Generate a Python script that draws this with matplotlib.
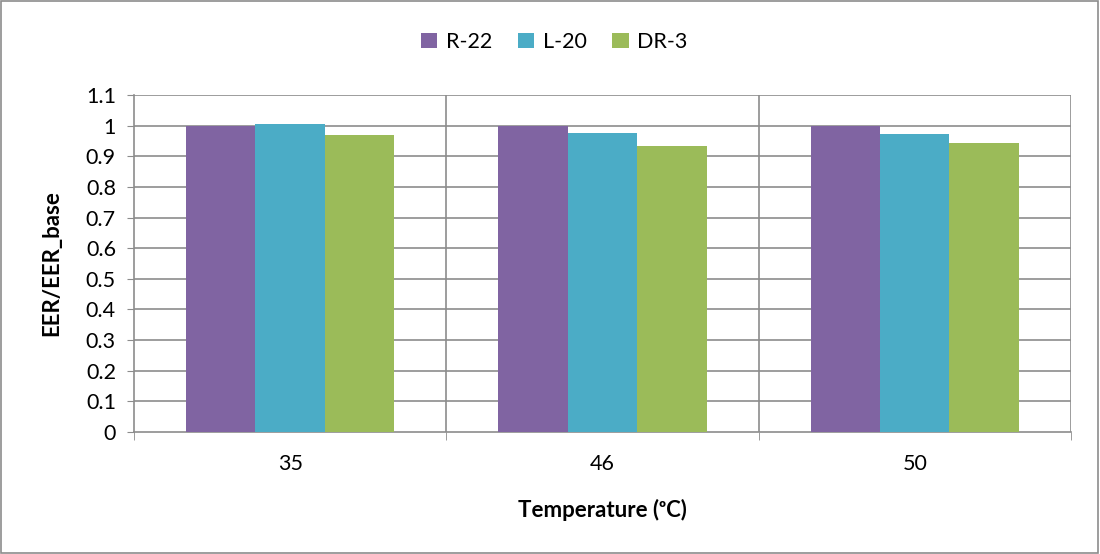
import matplotlib
matplotlib.use("Agg")
import matplotlib.pyplot as plt
from matplotlib.patches import Rectangle
import numpy as np

categories = ["35", "46", "50"]
series_names = ["R-22", "L-20", "DR-3"]
r22 = [1.0, 1.0, 1.0]
l20 = [1.006, 0.975, 0.973]
dr3 = [0.968, 0.933, 0.942]
colors = ["#8064A2", "#4BACC6", "#9BBB59"]

plt.rcParams['font.family'] = ['Lato', 'DejaVu Sans']
fs = 15.5

fig = plt.figure(figsize=(11, 5.54), dpi=100)
ax = fig.add_axes([0.1218, 0.2202, 0.8518, 0.6083])

x = np.arange(len(categories))
w = 1 / 4.5
data = [r22, l20, dr3]
for i, (vals, name, c) in enumerate(zip(data, series_names, colors)):
    ax.bar(x + (i - 1) * w, vals, width=w, color=c, label=name, zorder=3)

ax.set_xlim(-0.5, len(categories) - 0.5)
ax.set_ylim(0, 1.1)
yt = np.round(np.arange(0, 1.11, 0.1), 1)
ax.set_yticks(yt)
ax.set_yticklabels(["0", "0.1", "0.2", "0.3", "0.4", "0.5", "0.6", "0.7", "0.8", "0.9", "1", "1.1"])
ax.set_xticks(x)
ax.set_xticklabels(categories)
ax.set_xticks(np.arange(-0.5, len(categories)), minor=True)

gc = "#8c8c8c"
for yv in yt[1:]:
    ax.axhline(yv, color=gc, lw=1.2, zorder=1)
for xv in np.arange(0.5, len(categories)):
    ax.axvline(xv, color=gc, lw=1.2, zorder=1)

for s in ["top", "right"]:
    ax.spines[s].set_visible(False)
for s in ["left", "bottom"]:
    ax.spines[s].set_color(gc)
    ax.spines[s].set_linewidth(1.2)

ax.tick_params(axis='y', direction='out', length=5, color=gc, labelsize=fs, pad=8)
ax.tick_params(axis='x', which='major', length=0, labelsize=fs, pad=16)
ax.tick_params(axis='x', which='minor', direction='out', length=6, color=gc)

ax.set_ylabel("EER/EER_base", fontsize=16, fontweight='bold', labelpad=17)
ax.set_xlabel("Temperature (\u1d52C)", fontsize=16, fontweight='bold', labelpad=18)

leg = fig.legend(loc='center', bbox_to_anchor=(0.504, 0.924), ncol=3, frameon=False,
                 fontsize=fs, handlelength=0.75, handleheight=0.75, handletextpad=0.4,
                 columnspacing=1.2)

fig.add_artist(Rectangle((0.001, 0.002), 0.997, 0.996, transform=fig.transFigure,
                         fill=False, edgecolor=gc, lw=1.2))

fig.savefig("out.png", dpi=100)
